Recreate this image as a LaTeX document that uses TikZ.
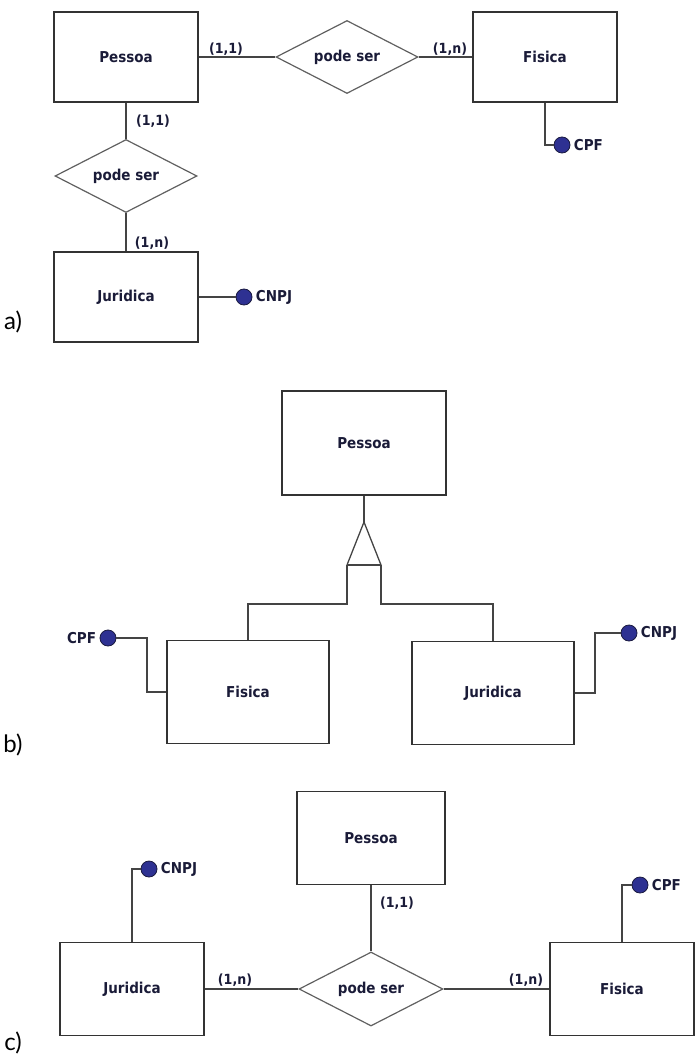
\documentclass[tikz,border=0pt]{standalone}
\usepackage{fontspec}
\usetikzlibrary{shapes.geometric}
\newfontfamily\erfont{DejaVu Sans Condensed}
\newfontfamily\tagfont{Lato}
\definecolor{ink}{HTML}{1A1B38}
\definecolor{boxline}{HTML}{333333}
\definecolor{relline}{HTML}{606060}
\definecolor{edge}{HTML}{444444}
\definecolor{attfill}{HTML}{2E3192}
\definecolor{attline}{HTML}{1A1A40}
\begin{document}
\begin{tikzpicture}[x=1pt, y=-1pt,
  every node/.style={font=\erfont\bfseries\fontsize{15}{15}\selectfont, text=ink},
  ent/.style={rectangle, draw=boxline, line width=1.8pt, inner sep=0pt,
    minimum width=144pt, minimum height=90pt},
  entb/.style={ent, minimum width=162pt, minimum height=103pt},
  rel/.style={diamond, shape aspect=2, draw=relline, line width=1.2pt, inner sep=0pt,
    minimum width=142pt, minimum height=73pt},
  att/.style={circle, draw=attline, fill=attfill, line width=0.8pt,
    inner sep=0pt, minimum size=16pt},
  card/.style={inner sep=0pt, font=\erfont\bfseries\fontsize{14}{14}\selectfont},
  e/.style={draw=edge, line width=1.3pt},
  tag/.style={font=\tagfont\fontsize{24}{24}\selectfont, text=black, inner sep=0pt}
]
\useasboundingbox (0,0) rectangle (695,1056);

% --- a) entities and relationships ---
\node[ent] (pesA) at (126,57) {Pessoa};
\node[rel] (relA1) at (347,57) {pode ser};
\node[ent] (fisA) at (545,57) {Fisica};
\node[rel] (relA2) at (126,176) {pode ser};
\node[ent] (jurA) at (126,297) {Juridica};

% attributes
\node[att, label=right:CPF] (cpfA) at (562,145) {};
\node[att, label=right:CNPJ] (cnpjA) at (244,297) {};

\draw[e] (pesA) -- (relA1) -- (fisA);
\draw[e] (pesA) -- (relA2) -- (jurA);
\draw[e] (fisA.south) |- (cpfA);
\draw[e] (jurA) -- (cnpjA);

% cardinalities
\node[card] at (226,49) {(1,1)};
\node[card] at (450,49) {(1,n)};
\node[card] at (153,121) {(1,1)};
\node[card] at (152,243) {(1,n)};

\node[tag] at (13,322) {a)};

% --- b) specialization ---
\node[entb, minimum width=164pt, minimum height=104pt] (pesB) at (364,443) {Pessoa};
\node[entb] (fisB) at (248,692) {Fisica};
\node[entb] (jurB) at (493,693) {Juridica};

\coordinate (isa) at (364,522);
\coordinate (isaL) at (347,565);
\coordinate (isaR) at (381,565);

\draw[e] (pesB) -- (isa);
\draw[e] (isaL) -- (isa) -- (isaR);
\draw[e, line width=2.2pt] (isaL) -- (isaR);
\draw[e] (isaL) -- ++(0,39) -| (fisB.north);
\draw[e] (isaR) -- ++(0,39) -| (jurB.north);

\node[att, label=left:CPF] (cpfB) at (108,638) {};
\node[att, label=right:CNPJ] (cnpjB) at (629,633) {};
\draw[e] (fisB.west) -- ++(-19,0) |- (cpfB);
\draw[e] (jurB.east) -- ++(20,0) |- (cnpjB);

\node[tag] at (13,745) {b)};

% --- c) one relationship, two entities ---
\node[ent, minimum width=148pt, minimum height=93pt] (pesC) at (371,838) {Pessoa};
\node[rel, minimum width=144pt, minimum height=74pt] (relC) at (371,989) {pode ser};
\node[ent, minimum height=93pt] (jurC) at (132,989) {Juridica};
\node[ent, minimum height=93pt] (fisC) at (622,989) {Fisica};

\node[att, label=right:CNPJ] (cnpjC) at (149,869) {};
\node[att, label=right:CPF] (cpfC) at (640,885) {};

\draw[e] (pesC) -- (relC);
\draw[e] (jurC) -- (relC) -- (fisC);
\draw[e] (jurC.north) |- (cnpjC);
\draw[e] (fisC.north) |- (cpfC);

\node[card] at (397,903) {(1,1)};
\node[card] at (235,980) {(1,n)};
\node[card] at (526,980) {(1,n)};

\node[tag] at (13,1043) {c)};

\end{tikzpicture}
\end{document}
